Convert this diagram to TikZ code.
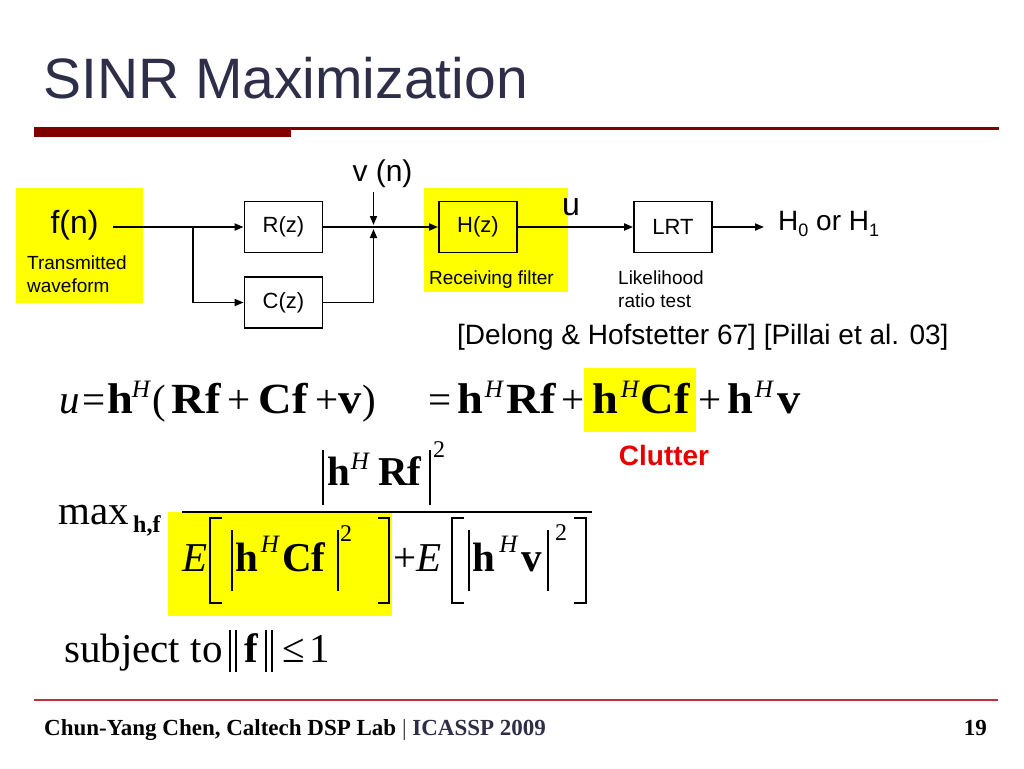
\documentclass[tikz,border=0pt]{standalone}
\usepackage{fontspec}
\setmainfont{Liberation Sans}
\newfontfamily\tms{Liberation Serif}
\newfontfamily\tmsw[FakeStretch=1.08]{Liberation Serif}
\usetikzlibrary{arrows.meta}
\definecolor{titlec}{RGB}{46,46,72}
\definecolor{barred}{RGB}{128,0,0}
\definecolor{footline}{RGB}{192,48,58}
\definecolor{hl}{RGB}{255,255,0}
\definecolor{clut}{RGB}{232,0,0}
\newcommand\fsz[1]{\fontsize{#1}{#1}\selectfont}
\newcommand\lowidx[1]{\raisebox{-0.22em}{\fontsize{18}{18}\selectfont #1}}
\begin{document}
\begin{tikzpicture}[x=1pt,y=-1pt,
  blk/.style={draw, line width=1.8pt, minimum width=78pt, minimum height=51pt, inner sep=0pt, font=\fsz{22}},
  conn/.style={line width=1.8pt},
  arr/.style={conn, -{Triangle[length=9pt,width=7pt]}},
  lbl/.style={inner sep=0pt, font=\fsz{19}},
  mrm/.style={inner sep=0pt, anchor=base, font=\tms\fsz{41}},
  mbf/.style={mrm, font=\tms\bfseries\fsz{41}},
  mit/.style={mrm, font=\tms\itshape\fsz{41}},
  msup/.style={mrm, font=\tms\itshape\fsz{25}},
  mtwo/.style={mrm, font=\tms\fsz{24}},
  lbf/.style={mrm, font=\tmsw\bfseries\fsz{43}},
  delim/.style={line width=1.4pt}]
\fill[white] (0,0) rectangle (1024,768);
\useasboundingbox (0,0) rectangle (1024,768);
% title
\node[anchor=base west, inner sep=0pt, font=\fsz{57}, text=titlec] (title) at (43,98) {SINR Maximization};
\fill[barred] (34,127) rectangle (291,137);
\fill[barred] (291,127) rectangle (999,129.5);
% highlights
\fill[hl] (16,188) rectangle (143,303);
\fill[hl] (424,188) rectangle (568,292);
\fill[hl] (584,368) rectangle (696,432);
\fill[hl] (168,512) rectangle (392,616);
% block diagram
\node[anchor=base, inner sep=0pt, font=\fsz{32}] (fn) at (74.5,233) {f(n)};
\node[lbl, anchor=base west] (tx1) at (27,269) {Transmitted};
\node[lbl, anchor=base west] (tx2) at (27,292) {waveform};
\coordinate (fnout) at (113,227);
\coordinate (J) at (193,227);
\node[blk] (R) at (283.5,227) {R(z)};
\node[blk] (C) at (283.5,302.5) {C(z)};
\coordinate (S) at (373.5,227);
\coordinate (vtop) at (373.5,192);
\node[anchor=base, inner sep=0pt, font=\fsz{30}] (vn) at (382.5,181) {v (n)};
\node[blk] (H) at (478,227) {H(z)};
\node[blk] (L) at (673,227) {LRT};
\node[anchor=base, inner sep=0pt, font=\fsz{32}] (u) at (571,215) {u};
\node[anchor=base west, inner sep=0pt, font=\fsz{28}] (out) at (778,230) {H\lowidx{0} or H\lowidx{1}};
\node[lbl, anchor=base] (rf) at (491.5,284) {Receiving filter};
\node[lbl, anchor=base west] (lk1) at (618,284) {Likelihood};
\node[lbl, anchor=base west] (lk2) at (618,307) {ratio test};
\node[anchor=base west, inner sep=0pt, font=\fsz{28}] (ref) at (457,344) {[Delong \& Hofstetter 67] [Pillai et al. 03]};
\draw[conn] (fnout) -- (J);
\draw[arr] (J) -- (R.west);
\draw[arr] (J) |- (C.west);
\draw[conn] (R.east) -- (S);
\draw[arr] (S) -- (H.west);
\draw[arr, shorten >=2pt] (C.east) -| (S);
\draw[arr, shorten >=2pt] (vtop) -- (S);
\draw[arr] (H.east) -- (L.west);
\draw[arr, shorten >=14pt] (L.east) -- (L.east -| out.west);
% equation line 1
\node[mit] (e1) at (70,413) {u};
\node[mrm] (e2) at (94,413) {=};
\node[lbf] (e3) at (120,413) {h};
\node[msup] (e4) at (141,397) {H};
\node[mrm] (e5) at (159,413) {(};
\node[lbf] (e6) at (196,413) {Rf};
\node[mrm] (e7) at (239,413) {+};
\node[lbf] (e8) at (283,413) {Cf};
\node[mrm] (e9) at (327,413) {+};
\node[lbf] (e10) at (350,413) {v};
\node[mrm] (e11) at (369,413) {)};
\node[mrm] (e12) at (440,413) {=};
\node[lbf] (e13) at (470,413) {h};
\node[msup] (e14) at (494,397) {H};
\node[lbf] (e15) at (531,413) {Rf};
\node[mrm] (e16) at (573,413) {+};
\node[lbf] (e17) at (605,413) {h};
\node[msup] (e18) at (630,397) {H};
\node[lbf] (e19) at (665,413) {Cf};
\node[mrm] (e20) at (710,413) {+};
\node[lbf] (e21) at (740,413) {h};
\node[msup] (e22) at (764,397) {H};
\node[lbf] (e23) at (789,413) {v};
\node[anchor=base, inner sep=0pt, font=\bfseries\fsz{28}, text=clut] (clutter) at (664,465) {Clutter};
% fraction
\node[mrm, anchor=base west] (max) at (58,524) {max};
\node[mbf, font=\tms\bfseries\fsz{24}, anchor=base west] (maxsub) at (133,532) {h,f};
\draw[line width=1.6pt] (182,512) -- (592,512);
% numerator
\draw[delim] (323,450) -- (323,505);
\draw[delim] (430,450) -- (430,505);
\node[mbf] (n1) at (339,485) {h};
\node[msup] (n2) at (360,469) {H};
\node[mbf] (n3) at (400,485) {Rf};
\node[mtwo] (n4) at (439,457) {2};
% denominator
\node[mit] (d1) at (195.5,571) {E};
\draw[delim] (222,518) -- (210,518) -- (210,603) -- (222,603);
\draw[delim] (232,530) -- (232,591);
\node[mbf] (d2) at (247,571) {h};
\node[msup] (d3) at (270,552) {H};
\node[mbf] (d4) at (304,571) {Cf};
\draw[delim] (338,530) -- (338,591);
\node[mtwo] (d5) at (346,541) {2};
\draw[delim] (378,518) -- (389,518) -- (389,603) -- (378,603);
\node[mrm] (d6) at (405,571) {+};
\node[mit] (d7) at (429,571) {E};
\draw[delim] (464,518) -- (452,518) -- (452,603) -- (464,603);
\draw[delim] (469,530) -- (469,591);
\node[mbf] (d8) at (484,571) {h};
\node[msup] (d9) at (508.5,552) {H};
\node[mbf] (d10) at (531.5,571) {v};
\draw[delim] (548,530) -- (548,591);
\node[mtwo] (d11) at (561,540) {2};
\draw[delim] (574,518) -- (586,518) -- (586,603) -- (574,603);
% constraint
\node[mrm, anchor=base west] (st) at (64,662) {subject to};
\draw[delim] (230,630) -- (230,672);
\draw[delim] (236,630) -- (236,672);
\node[mbf] (sf) at (251,662) {f};
\draw[delim] (266,630) -- (266,672);
\draw[delim] (272,630) -- (272,672);
\node[mrm] (le) at (294,662) {≤};
\node[mrm] (one) at (320,662) {1};
% footer
\draw[footline, line width=1.5pt] (34,700) -- (998,700);
\node[anchor=base west, inner sep=0pt, font=\tms\bfseries\fsz{23}] (foot) at (44,735) {Chun-Yang Chen, Caltech DSP Lab \textcolor{titlec}{\mdseries|} \textcolor{titlec}{ICASSP 2009}};
\node[anchor=base east, inner sep=0pt, font=\tms\bfseries\fsz{23}] (pg) at (987,735) {19};
\end{tikzpicture}
\end{document}
